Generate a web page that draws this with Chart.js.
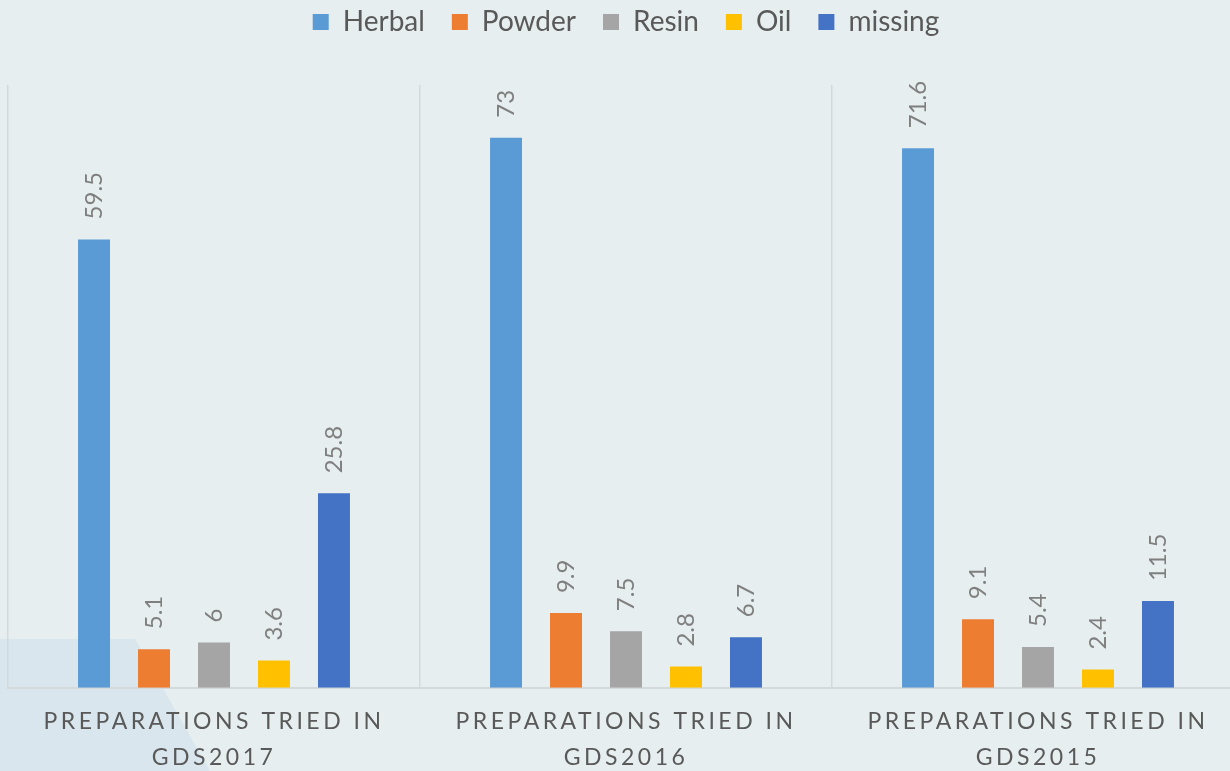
<!DOCTYPE html>
<html>
<head>
<meta charset="utf-8">
<script src="https://cdn.jsdelivr.net/npm/chart.js@4"></script>
<style>
  html, body { margin: 0; padding: 0; background: #e6eef0; overflow: hidden; width: 1230px; height: 771px; }
  #deco { position: absolute; left: 0; top: 0; width: 1230px; height: 771px; background: #d9e6ed;
          clip-path: polygon(0 639px, 135px 639px, 210px 771px, 0 771px); }
  #wrap { position: absolute; left: 0; top: 0; }
</style>
</head>
<body>
<div id="deco"></div>
<div id="wrap"><canvas id="chart" width="1250" height="771"></canvas></div>
<script>
const categorias = [
  ["PREPARATIONS TRIED IN", "GDS2017"],
  ["PREPARATIONS TRIED IN", "GDS2016"],
  ["PREPARATIONS TRIED IN", "GDS2015"]
];
const herbal = [59.5, 73, 71.6];
const powder = [5.1, 9.9, 9.1];
const resin = [6, 7.5, 5.4];
const oil = [3.6, 2.8, 2.4];
const missing = [25.8, 6.7, 11.5];

const fonte = "Lato, 'Liberation Sans', sans-serif";

// rótulos de valor girados acima das barras
const rotulos = {
  id: 'rotulos',
  afterDatasetsDraw(chart) {
    const ctx = chart.ctx;
    ctx.save();
    ctx.font = "24px " + fonte;
    ctx.fillStyle = "#7f7f7f";
    ctx.textAlign = "left";
    ctx.textBaseline = "middle";
    chart.data.datasets.forEach((ds, i) => {
      chart.getDatasetMeta(i).data.forEach((bar, j) => {
        ctx.save();
        ctx.translate(bar.x, bar.y - 20);
        ctx.rotate(-Math.PI / 2);
        ctx.fillText(String(ds.data[j]), 0, 0);
        ctx.restore();
      });
    });
    ctx.restore();
  }
};

// espaçamento entre letras nos rótulos do eixo x
const espacamento = {
  id: 'espacamento',
  beforeDraw(chart) {
    const s = chart.scales.x;
    if (s._espaco) return;
    const orig = s.drawLabels.bind(s);
    s.drawLabels = (area) => {
      chart.ctx.save();
      chart.ctx.letterSpacing = "3.5px";
      orig(area);
      chart.ctx.restore();
    };
    s._espaco = true;
  }
};

// altura fixa da legenda para que a área do gráfico comece em y=85
const alturaLegenda = {
  id: 'alturaLegenda',
  beforeInit(chart) {
    const fit = chart.legend.fit;
    chart.legend.fit = function () {
      fit.call(this);
      this.height = 104;
    };
  }
};

new Chart(document.getElementById('chart'), {
  type: 'bar',
  data: {
    labels: categorias,
    datasets: [
      { label: 'Herbal', data: herbal, backgroundColor: '#5b9bd5' },
      { label: 'Powder', data: powder, backgroundColor: '#ed7d31' },
      { label: 'Resin', data: resin, backgroundColor: '#a5a5a5' },
      { label: 'Oil', data: oil, backgroundColor: '#ffc000' },
      { label: 'missing', data: missing, backgroundColor: '#4472c4' }
    ]
  },
  options: {
    responsive: false,
    animation: false,
    layout: { padding: { left: 8, right: 6, top: -19, bottom: -20 } },
    datasets: { bar: { categoryPercentage: 0.728, barPercentage: 0.533 } },
    scales: {
      x: {
        grid: { offset: true, color: '#d4d9db', lineWidth: 1.5, drawTicks: false },
        border: { color: '#d4d9db', width: 2 },
        ticks: { color: '#595959', font: { family: fonte, size: 23, lineHeight: 1.55 }, padding: 16, maxRotation: 0 }
      },
      y: { display: false, min: 0, max: 80 }
    },
    plugins: {
      legend: {
        position: 'top',
        labels: {
          color: '#595959',
          font: { family: fonte, size: 28 },
          boxWidth: 16, boxHeight: 16,
          padding: 27
        }
      },
      tooltip: { enabled: false }
    }
  },
  plugins: [rotulos, espacamento, alturaLegenda]
});
</script>
</body>
</html>
